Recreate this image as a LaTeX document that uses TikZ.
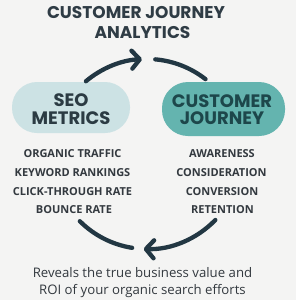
\documentclass[tikz,border=0pt]{standalone}
\usepackage{fontspec}
\setmainfont{Open Sans}
\newfontfamily\popfont{Poppins}
\usetikzlibrary{arrows.meta}
\definecolor{bgc}{HTML}{F4F4F3}
\definecolor{titlec}{HTML}{2F3C45}
\definecolor{seofill}{HTML}{CCE2E4}
\definecolor{seotext}{HTML}{2B3B43}
\definecolor{cjfill}{HTML}{64B4AF}
\definecolor{cjtext}{HTML}{1D474B}
\definecolor{listc}{HTML}{33393F}
\definecolor{arcc}{HTML}{223743}
\tikzset{
  titletext/.style={font=\popfont\bfseries\fontsize{17}{20}\selectfont, text=titlec, inner sep=0pt},
  boxtext/.style={font=\popfont\bfseries\fontsize{18}{19}\selectfont, align=center, inner sep=0pt},
  listtext/.style={font=\bfseries\fontsize{11}{12}\selectfont, text=listc, inner sep=0pt},
  bottomtext/.style={font=\fontsize{13.2}{14}\selectfont, text=listc, inner sep=0pt},
  arcline/.style={draw=arcc, line width=4.3pt, line cap=round},
  arrowtip/.style={-{Straight Barb[length=8pt,width=18pt,round]}},
}
\begin{document}
\begin{tikzpicture}[x=1pt,y=-1pt]
\fill[bgc] (0,0) rectangle (296,300);
\useasboundingbox (0,0) rectangle (296,300);
% title
\node[titletext, anchor=base] (t1) at (136,18) {CUSTOMER JOURNEY};
\node[titletext, anchor=base] (t2) at (142.5,38) {ANALYTICS};
% boxes
\node[fill=seofill, rounded corners=25pt, minimum width=118pt, minimum height=51pt, inner sep=0pt] (seo) at (71,107.5) {};
\node[fill=cjfill, rounded corners=26pt, minimum width=123pt, minimum height=54pt, inner sep=0pt] (cj) at (223.5,109) {};
\node[boxtext, text=seotext, anchor=base] (seo1) at (71,106) {SEO};
\node[boxtext, text=seotext, anchor=base] (seo2) at (71,124) {METRICS};
\node[boxtext, text=cjtext, anchor=base] (cj1) at (222,107) {CUSTOMER};
\node[boxtext, text=cjtext, anchor=base] (cj2) at (222,124) {JOURNEY};
% lists
\node[listtext, anchor=base] (l1) at (72.5,157) {ORGANIC TRAFFIC};
\node[listtext, anchor=base] (l2) at (72.5,176) {KEYWORD RANKINGS};
\node[listtext, anchor=base] (l3) at (72.5,195) {CLICK-THROUGH RATE};
\node[listtext, anchor=base] (l4) at (74,213) {BOUNCE RATE};
\node[listtext, anchor=base] (r1) at (222,157) {AWARENESS};
\node[listtext, anchor=base] (r2) at (221.5,176) {CONSIDERATION};
\node[listtext, anchor=base] (r3) at (222,195) {CONVERSION};
\node[listtext, anchor=base] (r4) at (222.5,213) {RETENTION};
% bottom text
\node[bottomtext, anchor=base] (b1) at (142.5,277) {Reveals the true business value and};
\node[bottomtext, anchor=base] (b2) at (142.5,294) {ROI of your organic search efforts};
% arcs (circle centre (147,154), r 95); y axis points down, so angles are negated
\coordinate (c) at (147,154);
\draw[arcline, arrowtip] ([shift={(-130:95)}]c) arc[start angle=-130, end angle=-93, radius=95];
\draw[arcline] ([shift={(-85:95)}]c) arc[start angle=-85, end angle=-52, radius=95];
\draw[arcline] ([shift={(-225:95)}]c) arc[start angle=-225, end angle=-261, radius=95];
\draw[arcline, arrowtip] ([shift={(-316:95)}]c) arc[start angle=-316, end angle=-268, radius=95];
\end{tikzpicture}
\end{document}
